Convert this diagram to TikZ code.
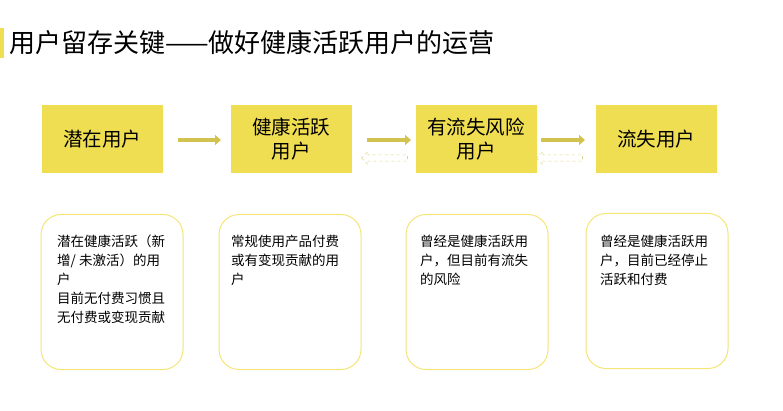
\documentclass[tikz,border=0pt]{standalone}
\usepackage{fontspec}
\newfontfamily\cjk{Noto Sans CJK SC}
\usetikzlibrary{arrows.meta,shapes.arrows}
\definecolor{ylw}{RGB}{240,222,82}
\definecolor{ylwline}{RGB}{245,228,120}
\definecolor{arrowc}{RGB}{210,195,80}
\tikzset{
  stage/.style={fill=ylw, minimum width=121pt, minimum height=68pt, align=center, inner sep=0pt, font=\cjk\fontsize{19.5}{24}\selectfont},
  info/.style={draw=ylwline, line width=1pt, rounded corners=20pt, minimum width=142pt, minimum height=155pt},
  txt/.style={anchor=north west, align=left, inner sep=0pt, font=\cjk\fontsize{13.5}{19}\selectfont},
  fwd/.style={arrowc, line width=4pt, -{Triangle[length=6pt,width=10pt]}},
  back/.style={single arrow, draw=arrowc!70, dashed, line width=0.6pt, shape border rotate=180, minimum height=46pt, minimum width=13pt, single arrow head extend=2pt, inner sep=1.5pt}
}
\begin{document}
\begin{tikzpicture}[x=1pt,y=-1pt]
  \useasboundingbox (0,0) rectangle (783,411);
  % title
  \fill[ylw] (0,28) rectangle (4,58);
  \node[anchor=west, inner sep=0pt, font=\cjk\fontsize{26}{30}\selectfont] (title) at (9,43) {用户留存关键——做好健康活跃用户的运营};
  % stages
  \node[stage] (s1) at (102,139) {潜在用户};
  \node[stage] (s2) at (291,139) {健康活跃\\用户};
  \node[stage] (s3) at (476,139) {有流失风险\\用户};
  \node[stage] (s4) at (656,139) {流失用户};
  \coordinate (a1) at (178,140); \coordinate (b1) at (221,140);
  \coordinate (a2) at (367,140); \coordinate (b2) at (411,140);
  \coordinate (a3) at (541,140); \coordinate (b3) at (585,140);
  \draw[fwd] (a1) -- (b1);
  \draw[fwd] (a2) -- (b2);
  \draw[fwd] (a3) -- (b3);
  \node[back] (r1) at (386,158) {};
  \node[back] (r2) at (561,158) {};
  % descriptions
  \node[info] (d1) at (112,292) {};
  \node[info] (d2) at (290,292) {};
  \node[info] (d3) at (477,292) {};
  \node[info] (d4) at (657,291) {};
  \node[txt] (t1) at (57,235) {潜在健康活跃（新\\增/ 未激活）的用\\户\\目前无付费习惯且\\无付费或变现贡献};
  \node[txt] (t2) at (231,235) {常规使用产品付费\\或有变现贡献的用\\户};
  \node[txt] (t3) at (420,235) {曾经是健康活跃用\\户，但目前有流失\\的风险};
  \node[txt] (t4) at (600,235) {曾经是健康活跃用\\户，目前已经停止\\活跃和付费};
\end{tikzpicture}
\end{document}
